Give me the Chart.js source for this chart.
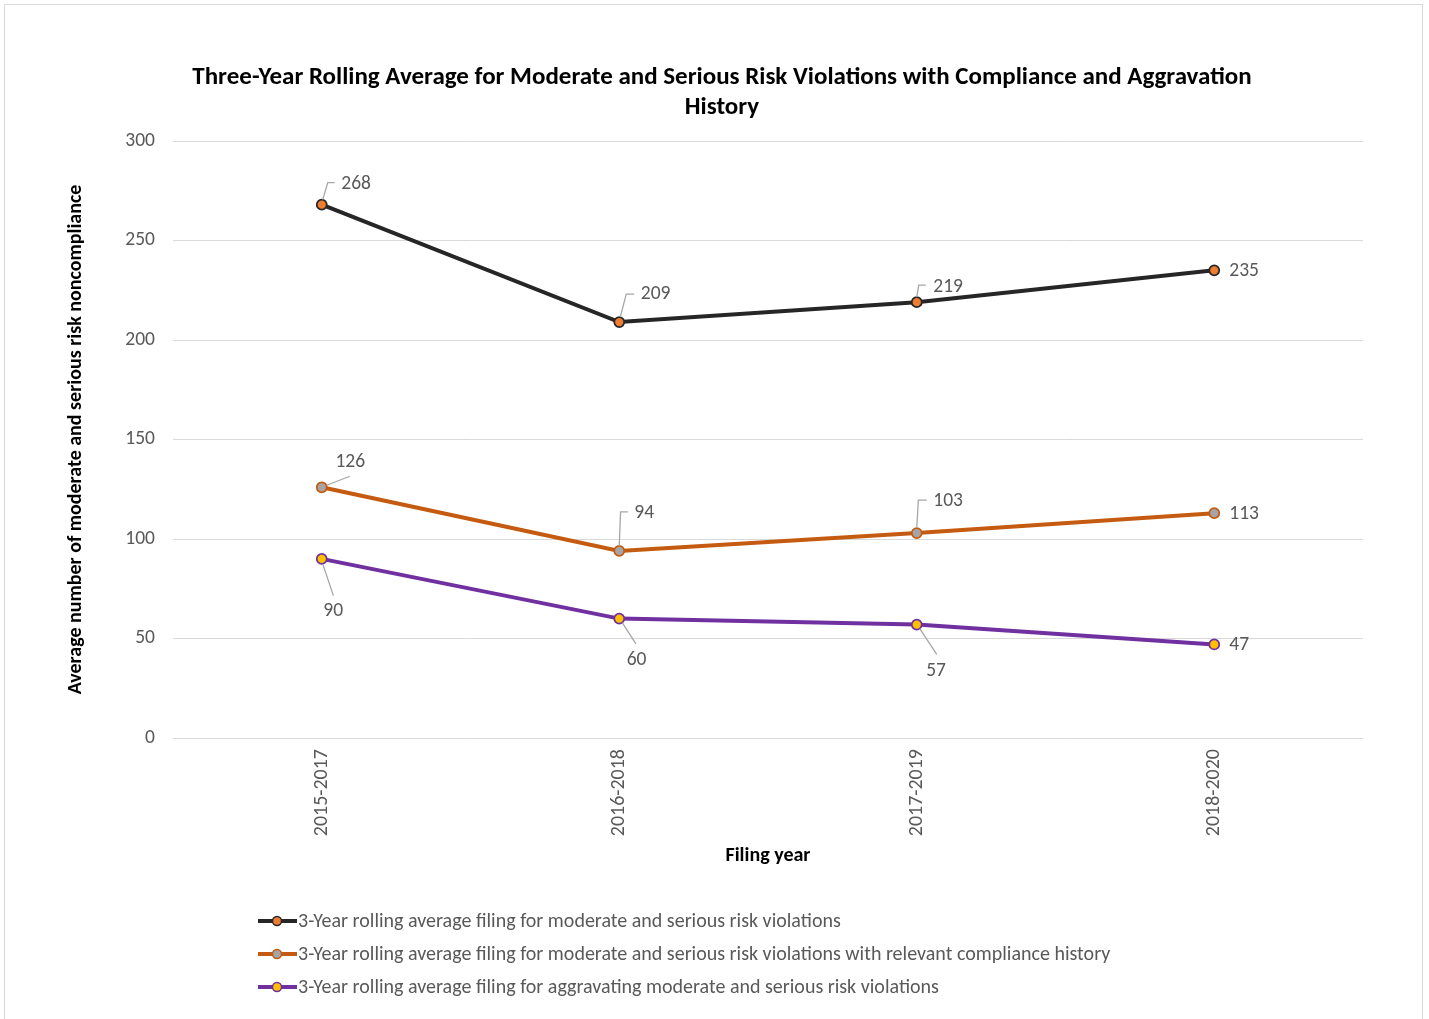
<!DOCTYPE html>
<html>
<head>
<meta charset="utf-8">
<script src="https://cdn.jsdelivr.net/npm/chart.js@4.4.1/dist/chart.umd.min.js"></script>
<style>
  html, body { margin: 0; padding: 0; background: #fff; overflow: hidden; }
  #frame { position: absolute; left: 4px; top: 4px; width: 1417px; height: 1100px; border: 1px solid #d9d9d9; }
  #chart { position: absolute; left: 0; top: 0; }
</style>
</head>
<body>
<div id="frame"></div>
<canvas id="chart" width="1429" height="1019"></canvas>
<script>
// donnees
const categories = ["2015-2017", "2016-2018", "2017-2019", "2018-2020"];
const seriesNames = [
  "3-Year rolling average filing for moderate and serious risk violations",
  "3-Year rolling average filing for moderate and serious risk violations with relevant compliance history",
  "3-Year rolling average filing for aggravating moderate and serious risk violations",
];
const allViolations = [268, 209, 219, 235];
const complianceHistory = [126, 94, 103, 113];
const aggravating = [90, 60, 57, 47];
const yMin = 0;
const yMax = 300;
const yStep = 50;

const titleLines = [
  "Three-Year Rolling Average for Moderate and Serious Risk Violations with Compliance and Aggravation",
  "History",
];
const xTitle = "Filing year";
const yTitle = "Average number of moderate and serious risk noncompliance";

const FONT = "Carlito, Calibri, Lato, sans-serif";
const TEXT = "#595959";

// placement des etiquettes (decalage en px par rapport au point) + lignes de rappel
const labelLayout = [
  [
    { dx: 19.5, dy: -21, align: "left", leader: [[1, -5], [6, -22], [13, -22]] },
    { dx: 21.5, dy: -28, align: "left", leader: [[1, -5], [7, -28], [15, -28]] },
    { dx: 16.5, dy: -15.5, align: "left", leader: [[0, -5], [2, -17], [9, -17]] },
    { dx: 15, dy: 1, align: "left" },
  ],
  [
    { dx: 28.5, dy: -25, align: "center", leader: [[5, -2], [28, -11]] },
    { dx: 15, dy: -38, align: "left", leader: [[0, -5], [1.3, -39], [8.7, -39]] },
    { dx: 16.5, dy: -31.5, align: "left", leader: [[0, -5], [1.6, -33], [10, -33]] },
    { dx: 15, dy: 1, align: "left" },
  ],
  [
    { dx: 11.5, dy: 52.5, align: "center", leader: [[1, 5], [11.6, 36.7]] },
    { dx: 17.3, dy: 42, align: "center", leader: [[3, 4], [16.7, 25.3]] },
    { dx: 19.3, dy: 46.3, align: "center", leader: [[3, 4], [20, 29.7]] },
    { dx: 15, dy: 1, align: "left" },
  ],
];

const valueLabels = {
  id: "valueLabels",
  afterDatasetsDraw(chart) {
    const ctx = chart.ctx;
    ctx.save();
    chart.data.datasets.forEach((ds, i) => {
      const meta = chart.getDatasetMeta(i);
      meta.data.forEach((pt, j) => {
        const lay = labelLayout[i][j];
        if (lay.leader) {
          ctx.strokeStyle = "#a6a6a6";
          ctx.lineWidth = 1.3;
          ctx.beginPath();
          lay.leader.forEach(([dx, dy], k) => {
            if (k === 0) ctx.moveTo(pt.x + dx, pt.y + dy);
            else ctx.lineTo(pt.x + dx, pt.y + dy);
          });
          ctx.stroke();
        }
        ctx.fillStyle = TEXT;
        ctx.font = `19.5px ${FONT}`;
        ctx.textAlign = lay.align;
        ctx.textBaseline = "middle";
        ctx.fillText(String(ds.data[j]), pt.x + lay.dx, pt.y + lay.dy);
      });
    });
    ctx.restore();
  },
};

// legende verticale alignee a gauche, comme dans Excel
const sideLegend = {
  id: "sideLegend",
  afterDraw(chart) {
    const ctx = chart.ctx;
    const area = chart.chartArea;
    const x0 = area.left + 85;
    ctx.save();
    chart.data.datasets.forEach((ds, i) => {
      const y = area.bottom + 183 + i * 33;
      ctx.strokeStyle = ds.borderColor;
      ctx.lineWidth = 4;
      ctx.beginPath();
      ctx.moveTo(x0, y);
      ctx.lineTo(x0 + 39, y);
      ctx.stroke();
      ctx.beginPath();
      ctx.arc(x0 + 19, y, 4.5, 0, Math.PI * 2);
      ctx.fillStyle = ds.pointBackgroundColor;
      ctx.fill();
      ctx.lineWidth = 1.5;
      ctx.strokeStyle = ds.pointBorderColor;
      ctx.stroke();
      ctx.fillStyle = TEXT;
      ctx.font = `20px ${FONT}`;
      ctx.textAlign = "left";
      ctx.textBaseline = "middle";
      ctx.fillText(ds.label, x0 + 40, y + 1);
    });
    ctx.restore();
  },
};

function lineSet(label, data, color, fill) {
  return {
    label,
    data,
    borderColor: color,
    borderWidth: 4,
    pointRadius: 5,
    pointBorderWidth: 1.75,
    pointBorderColor: color,
    pointBackgroundColor: fill,
    tension: 0,
  };
}

new Chart(document.getElementById("chart"), {
  type: "line",
  data: {
    labels: categories,
    datasets: [
      lineSet(seriesNames[0], allViolations, "#262626", "#ED7D31"),
      lineSet(seriesNames[1], complianceHistory, "#C55A11", "#A5A5A5"),
      lineSet(seriesNames[2], aggravating, "#7030A0", "#FFC000"),
    ],
  },
  options: {
    responsive: false,
    animation: false,
    layout: { padding: { left: 81, right: 66, top: 0, bottom: 141 } },
    plugins: {
      legend: { display: false },
      tooltip: { enabled: false },
      title: {
        display: true,
        text: titleLines,
        color: "#000",
        font: { family: FONT, size: 25, weight: "bold", lineHeight: 1.2 },
        padding: { top: 63, bottom: 18 },
      },
    },
    scales: {
      x: {
        offset: true,
        grid: { display: false },
        border: { display: false },
        ticks: { minRotation: 90, maxRotation: 90, padding: 3, color: TEXT, font: { family: FONT, size: 20 } },
        title: {
          display: true,
          text: xTitle,
          color: "#000",
          font: { family: FONT, size: 20, weight: "bold" },
          padding: { top: 0, bottom: 10 },
        },
        afterFit(scale) { scale.height = 140; },
      },
      y: {
        min: yMin,
        max: yMax,
        ticks: { stepSize: yStep, padding: 18, color: TEXT, font: { family: FONT, size: 19.5 } },
        grid: { color: "#d9d9d9", lineWidth: 1, drawTicks: false },
        border: { display: false },
        title: {
          display: true,
          text: yTitle,
          color: "#000",
          font: { family: FONT, size: 20, weight: "bold" },
          padding: { top: -17.5, bottom: 0 },
        },
        afterFit(scale) { scale.width = 92; },
      },
    },
  },
  plugins: [valueLabels, sideLegend],
});
</script>
</body>
</html>
